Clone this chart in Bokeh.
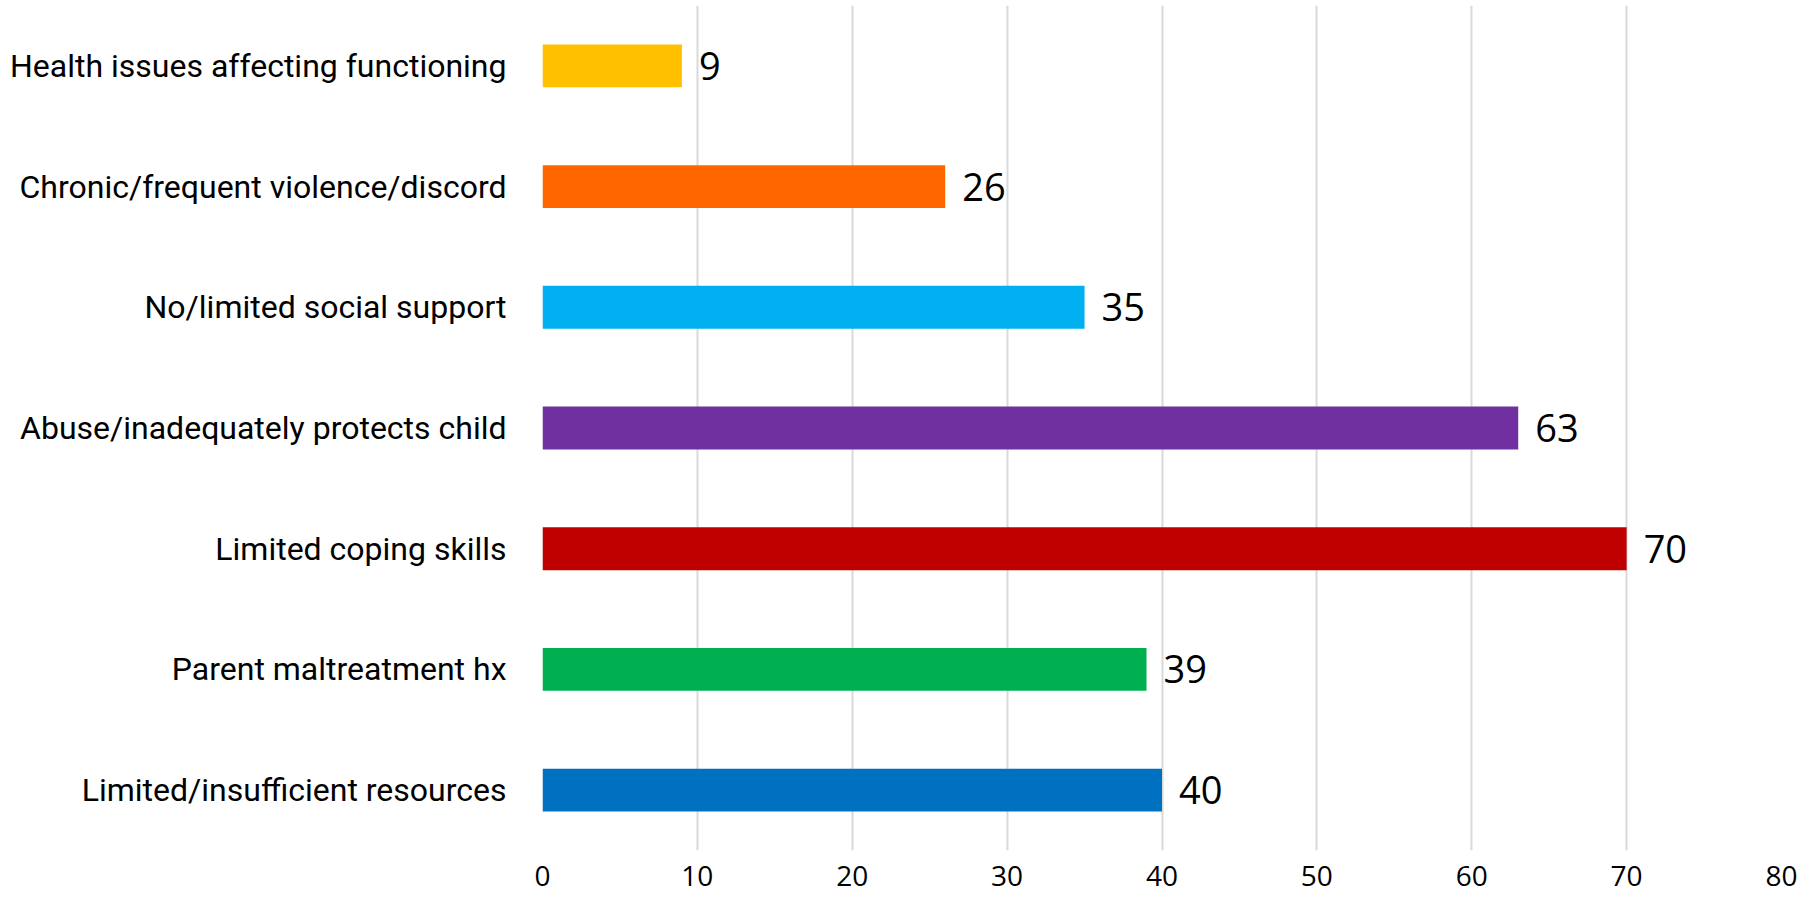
from bokeh.plotting import figure
from bokeh.models import ColumnDataSource, FactorRange, Range1d, FixedTicker, LabelSet
from bokeh.core.properties import value
from bokeh.embed import file_html
from bokeh.resources import INLINE

categories = [
    "Health issues affecting functioning",
    "Chronic/frequent violence/discord",
    "No/limited social support",
    "Abuse/inadequately protects child",
    "Limited coping skills",
    "Parent maltreatment hx",
    "Limited/insufficient resources",
]
values = [9, 26, 35, 63, 70, 39, 40]
colors = ["#FFC000", "#FF6600", "#00B0F0", "#7030A0", "#C00000", "#00B050", "#0070C0"]
x_ticks = [0, 10, 20, 30, 40, 50, 60, 70, 80]

src = ColumnDataSource(dict(cat=categories, val=values, color=colors,
                            lab=[str(v) for v in values]))

p = figure(width=1810, height=902, output_backend="svg", toolbar_location=None,
           y_range=FactorRange(factors=list(reversed(categories)), range_padding=0),
           x_range=Range1d(0, 80),
           min_border_left=542, min_border_right=29, min_border_top=5, min_border_bottom=52)
p.outline_line_color = None

p.hbar(y="cat", right="val", left=0, height=0.355, color="color", source=src, line_color=None)

labels = LabelSet(x="val", y="cat", text="lab", source=src, x_offset=17, y_offset=0,
                  text_baseline="middle", text_align="left",
                  text_font=value("Open Sans"), text_font_size=value("38px"),
                  text_color="#000000")
p.add_layout(labels)

p.xaxis.ticker = FixedTicker(ticks=x_ticks)
p.xaxis.axis_line_color = None
p.xaxis.major_tick_line_color = None
p.xaxis.major_tick_out = 0
p.xaxis.major_tick_in = 0
p.xaxis.minor_tick_line_color = None
p.xaxis.minor_tick_out = 0
p.xaxis.major_label_text_font = "Open Sans"
p.xaxis.major_label_text_font_size = "28px"
p.xaxis.major_label_text_color = "#000000"
p.xaxis.major_label_standoff = 15

p.yaxis.axis_line_color = None
p.yaxis.major_tick_line_color = None
p.yaxis.major_tick_out = 0
p.yaxis.major_tick_in = 0
p.yaxis.minor_tick_line_color = None
p.yaxis.minor_tick_out = 0
p.yaxis.major_label_text_font = "Roboto"
p.yaxis.major_label_text_font_size = "32px"
p.yaxis.major_label_text_color = "#000000"
p.yaxis.major_label_standoff = 36

p.xgrid.grid_line_color = "#D9D9D9"
p.xgrid.grid_line_width = 2
p.ygrid.grid_line_color = None

open("out.html", "w").write(file_html(p, INLINE))
